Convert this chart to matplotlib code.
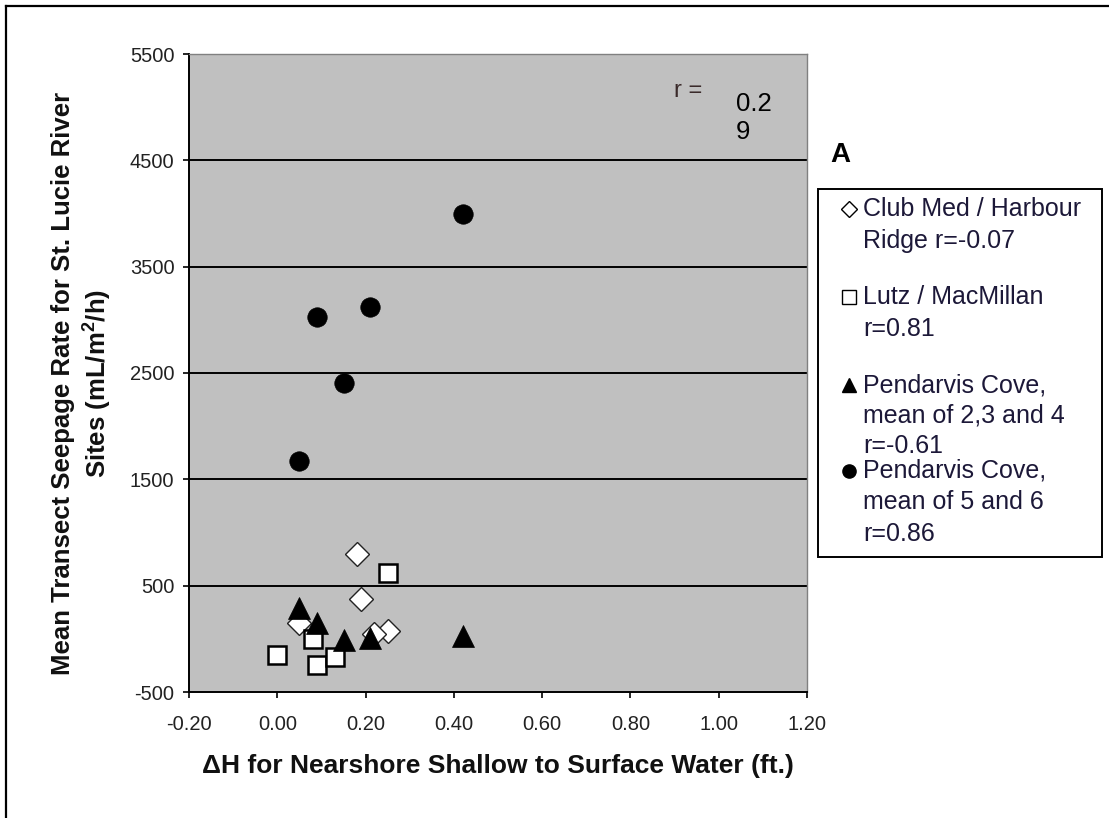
import matplotlib
matplotlib.use("Agg")
import matplotlib.pyplot as plt
from matplotlib.lines import Line2D
from matplotlib.patches import Rectangle

plt.rcParams['font.family'] = ['Liberation Sans', 'DejaVu Sans']
plt.rcParams['axes.unicode_minus'] = False

# data
club_x = [0.18, 0.19, 0.05, 0.25, 0.22]
club_y = [800, 370, 150, 70, 50]
lutz_x = [0.25, 0.08, 0.00, 0.09, 0.13]
lutz_y = [620, -5, -150, -245, -170]
pend234_x = [0.05, 0.09, 0.15, 0.21, 0.42]
pend234_y = [290, 150, -15, 5, 25]
pend56_x = [0.42, 0.09, 0.21, 0.15, 0.05]
pend56_y = [4000, 3030, 3120, 2410, 1670]

x_ticks = [-0.2, 0.0, 0.2, 0.4, 0.6, 0.8, 1.0, 1.2]
y_ticks = [-500, 500, 1500, 2500, 3500, 4500, 5500]

legend_lines = [
    ["Club Med / Harbour", "Ridge r=-0.07"],
    ["Lutz / MacMillan", "r=0.81"],
    ["Pendarvis Cove,", "mean of 2,3 and 4", "r=-0.61"],
    ["Pendarvis Cove,", "mean of 5 and 6", "r=0.86"],
]

W, H = 1109, 818


def fx(px):
    return px / W


def fy(py):
    return 1 - py / H


fig = plt.figure(figsize=(W / 100, H / 100), dpi=100)
ax = fig.add_axes([fx(189), fy(692), fx(807) - fx(189), fy(54) - fy(692)])
ax.set_facecolor('#C0C0C0')

for y in y_ticks[1:-1]:
    ax.axhline(y, color='black', lw=1.4, zorder=1)

ax.plot(club_x, club_y, linestyle='none', marker='D', ms=12.5, mfc='white',
        mec='#222222', mew=1.0, zorder=3)
ax.plot(lutz_x, lutz_y, linestyle='none', marker='s', ms=13.5, mfc='white',
        mec='black', mew=1.8, zorder=3)
ax.plot(pend234_x, pend234_y, linestyle='none', marker='^', ms=15.5, mfc='black',
        mec='black', mew=0.5, zorder=4)
ax.plot(pend56_x, pend56_y, linestyle='none', marker='o', ms=14, mfc='black',
        mec='black', mew=0.5, zorder=4)

ax.set_xlim(-0.2, 1.2)
ax.set_ylim(-500, 5500)
ax.set_xticks(x_ticks)
ax.set_xticklabels([f"{v:.2f}" for v in x_ticks])
ax.set_yticks(y_ticks)
ax.tick_params(direction='out', length=4.5, width=1.2, color='black',
               labelsize=14.5, labelcolor='#222222')
ax.tick_params(axis='x', pad=12)
ax.tick_params(axis='y', pad=6)
for s in ['left', 'bottom']:
    ax.spines[s].set_color('black')
    ax.spines[s].set_linewidth(1.4)
for s in ['top', 'right']:
    ax.spines[s].set_color('#808080')
    ax.spines[s].set_linewidth(1.0)

fig.text(fx(498), fy(766), "\u0394H for Nearshore Shallow to Surface Water (ft.)",
         ha='center', va='center', fontsize=19, fontweight='bold', color='#111111')
fig.text(fx(63), fy(383), "Mean Transect Seepage Rate for St. Lucie River",
         ha='center', va='center', rotation=90, fontsize=18.5, fontweight='bold',
         color='#111111')
fig.text(fx(97), fy(383), "Sites (mL/m$^{\\mathregular{2}}$/h)",
         ha='center', va='center', rotation=90, fontsize=18.5, fontweight='bold',
         color='#111111')

# r value annotation
fig.text(fx(674), fy(91), "r =", ha='left', va='center', fontsize=17, color='#3a2a2a')
fig.text(fx(736), fy(104), "0.2", ha='left', va='center', fontsize=18.5, color='black')
fig.text(fx(736), fy(132), "9", ha='left', va='center', fontsize=18.5, color='black')

fig.text(fx(840), fy(155), "A", ha='center', va='center', fontsize=20,
         fontweight='bold', color='black')

# legend box
fig.add_artist(Rectangle((fx(818), fy(557)), fx(1102) - fx(818), fy(189) - fy(557),
                         transform=fig.transFigure, fill=False, ec='black', lw=1.4))
entry_y = [[209, 241], [297, 329], [385, 415, 446], [471, 502, 534]]
markers = [('D', 'white', 8), ('s', 'white', 9.5), ('^', 'black', 10), ('o', 'black', 9.5)]
for lines, ys, (mk, fc, ms) in zip(legend_lines, entry_y, markers):
    fig.add_artist(Line2D([fx(849)], [fy(ys[0])], transform=fig.transFigure,
                          marker=mk, ms=ms, mfc=fc, mec='black', mew=1.0,
                          linestyle='none'))
    for t, y in zip(lines, ys):
        fig.text(fx(863), fy(y), t, ha='left', va='center', fontsize=18,
                 color='#1c1838')

# outer border (top and left only)
fig.add_artist(Line2D([fx(6), fx(6)], [fy(6), 0], transform=fig.transFigure,
                      color='black', lw=1.6))
fig.add_artist(Line2D([fx(6), 1], [fy(6), fy(6)], transform=fig.transFigure,
                      color='black', lw=1.6))

fig.savefig("out.png", dpi=100)
